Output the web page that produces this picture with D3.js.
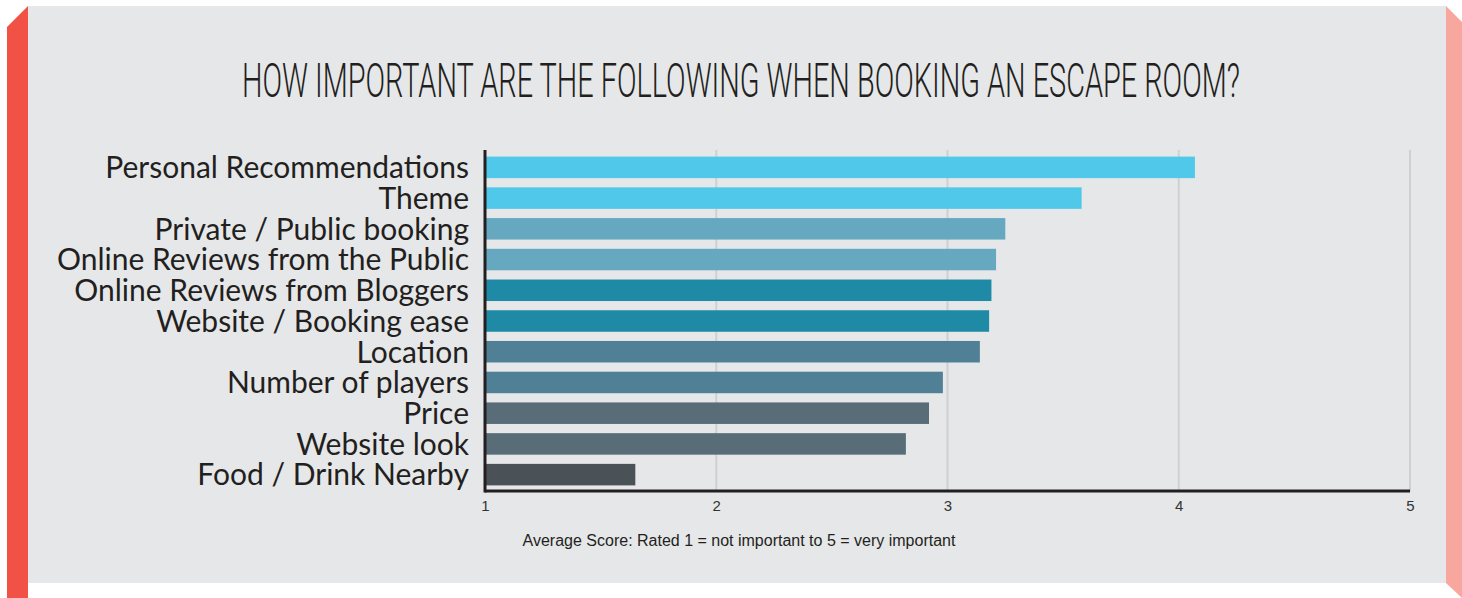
<!DOCTYPE html>
<html>
<head>
<meta charset="utf-8">
<script src="https://cdn.jsdelivr.net/npm/d3@7"></script>
<style>
  html, body { margin: 0; padding: 0; background: #ffffff; }
  svg { display: block; }
</style>
</head>
<body>
<div id="chart"></div>
<script>
'use strict';

// Data
var categories = [
  'Personal Recommendations',
  'Theme',
  'Private / Public booking',
  'Online Reviews from the Public',
  'Online Reviews from Bloggers',
  'Website / Booking ease',
  'Location',
  'Number of players',
  'Price',
  'Website look',
  'Food / Drink Nearby'
];
var scores = [4.07, 3.58, 3.25, 3.21, 3.19, 3.18, 3.14, 2.98, 2.92, 2.82, 1.65];
var barColors = ['#4fc8ea', '#4fc8ea', '#67a8c1', '#67a8c1', '#1f8aa5', '#1f8aa5',
                 '#508096', '#508096', '#586d77', '#586d77', '#4a5258'];
var tickValues = [1, 2, 3, 4, 5];
var titleText = 'HOW IMPORTANT ARE THE FOLLOWING WHEN BOOKING AN ESCAPE ROOM?';
var axisCaption = 'Average Score: Rated 1 = not important to 5 = very important';

var W = 1462, H = 598;
var margin = {top: 150, left: 485, right: 52, bottom: 107};

var svg = d3.select('#chart')
  .append('svg')
  .attr('width', W)
  .attr('height', H);

// side bands
svg.append('polygon')
  .attr('points', '7,27 28,6 28,598 7,598')
  .attr('fill', '#f15245');
svg.append('polygon')
  .attr('points', '1446,6 1462,22 1462,598 1446,583')
  .attr('fill', '#f8a79f');

// panel
svg.append('rect')
  .attr('x', 28).attr('y', 6)
  .attr('width', 1446 - 28).attr('height', 583 - 6)
  .attr('fill', '#e6e7e9');

// title (condensed by horizontal scaling)
var title = svg.append('text')
  .attr('x', 0).attr('y', 0)
  .style('font-family', 'Roboto')
  .style('font-weight', 300)
  .style('font-size', '48px')
  .attr('fill', '#231f20')
  .text(titleText);
var tw = title.node().getComputedTextLength();
title.attr('transform', 'translate(242,97) scale(' + (998 / tw) + ',1)');

var x0 = margin.left, x1 = W - margin.right;   // 485 .. 1410
var y0 = margin.top, y1 = H - margin.bottom;   // 150 .. 491

var xScale = d3.scaleLinear().domain([1, 5]).range([x0, x1]);
var yScale = d3.scaleBand()
  .domain(categories)
  .range([y0 + 2, y1 - 1])
  .paddingInner(0.3)
  .paddingOuter(0.15);

// gridlines
svg.append('g')
  .selectAll('line')
  .data(tickValues.slice(1))
  .enter()
  .append('line')
  .attr('x1', function(d) { return xScale(d); })
  .attr('x2', function(d) { return xScale(d); })
  .attr('y1', y0).attr('y2', y1)
  .attr('stroke', '#cfd0d3')
  .attr('stroke-width', 2);

// bars
svg.append('g')
  .selectAll('rect')
  .data(categories)
  .enter()
  .append('rect')
  .attr('x', xScale(1))
  .attr('y', function(d) { return yScale(d); })
  .attr('width', function(d, i) { return xScale(scores[i]) - xScale(1); })
  .attr('height', yScale.bandwidth())
  .attr('fill', function(d, i) { return barColors[i]; });

// category labels
svg.append('g')
  .selectAll('text')
  .data(categories)
  .enter()
  .append('text')
  .attr('x', 469)
  .attr('y', function(d) { return yScale(d) + yScale.bandwidth() / 2; })
  .attr('dy', '0.36em')
  .attr('text-anchor', 'end')
  .style('font-family', 'Lato')
  .style('font-size', '30px')
  .attr('fill', '#231f20')
  .text(function(d) { return d; });

// x axis
var xAxis = d3.axisBottom(xScale)
  .tickValues(tickValues)
  .tickSize(0)
  .tickPadding(9)
  .tickFormat(d3.format('d'));

var gx = svg.append('g')
  .attr('class', 'x axis')
  .attr('transform', 'translate(0,' + y1 + ')')
  .call(xAxis);
gx.select('.domain').remove();
gx.selectAll('text')
  .style('font-family', 'Liberation Sans, Arial, sans-serif')
  .style('font-size', '15px')
  .attr('fill', '#333333');

// axis lines
svg.append('line')
  .attr('x1', x0).attr('x2', x1)
  .attr('y1', y1).attr('y2', y1)
  .attr('stroke', '#231f20').attr('stroke-width', 3);
svg.append('line')
  .attr('x1', x0).attr('x2', x0)
  .attr('y1', y0).attr('y2', y1 + 1.5)
  .attr('stroke', '#231f20').attr('stroke-width', 3);

// axis caption
svg.append('text')
  .attr('x', 739).attr('y', 546)
  .attr('text-anchor', 'middle')
  .style('font-family', 'Liberation Sans, Arial, sans-serif')
  .style('font-size', '16px')
  .attr('fill', '#231f20')
  .text(axisCaption);
</script>
</body>
</html>
